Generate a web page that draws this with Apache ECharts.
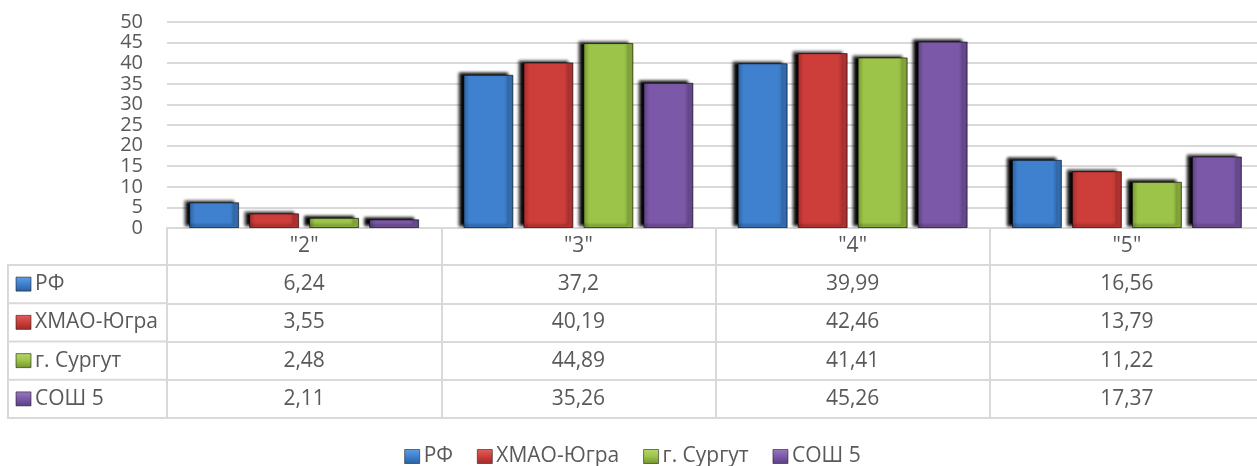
<!DOCTYPE html>
<html><head><meta charset="utf-8">
<script src="https://cdn.jsdelivr.net/npm/echarts/dist/echarts.min.js"></script>
<style>html,body{margin:0;padding:0;overflow:hidden;background:#fff}#c{width:1265px;height:466px}</style>
</head><body><div id="c"></div>
<script>
const categories = ['"2"', '"3"', '"4"', '"5"'];
const seriesNames = ['РФ', 'ХМАО-Югра', 'г. Сургут', 'СОШ 5'];
const valuesRF = [6.24, 37.2, 39.99, 16.56];
const valuesHMAO = [3.55, 40.19, 42.46, 13.79];
const valuesSurgut = [2.48, 44.89, 41.41, 11.22];
const valuesSOSH = [2.11, 35.26, 45.26, 17.37];
const yMin = 0, yMax = 50, yStep = 5;

const allValues = [valuesRF, valuesHMAO, valuesSurgut, valuesSOSH];
const palette = [
  ['#2c5f9c', '#3f81cf', '#5c9de3'],
  ['#9e2b29', '#cd3d3a', '#e0605c'],
  ['#74932f', '#9cc449', '#b4d86a'],
  ['#5a3e80', '#7c59a8', '#9877c2']
];
const txt = '#595959';
const lineC = '#d9d9d9';
const FONT = 'Open Sans';
const FS = 21;
const fmt = v => String(v).replace('.', ',');

function grad(p) {
  return new echarts.graphic.LinearGradient(0, 0, 1, 0, [
    {offset: 0, color: p[0]}, {offset: 0.12, color: p[1]},
    {offset: 0.5, color: p[1]}, {offset: 0.88, color: p[1]}, {offset: 1, color: p[0]}
  ]);
}
function iconGrad(p) {
  return new echarts.graphic.LinearGradient(0, 0, 0, 1, [
    {offset: 0, color: p[2]}, {offset: 0.5, color: p[1]}, {offset: 1, color: p[0]}
  ]);
}

const gridTop = 22, gridBottomY = 228, gridLeft = 167;
const headerH = 37, rowH = 38.25;

const xAxes = [{
  type: 'category', data: categories, position: 'bottom', offset: 0,
  axisLine: {show: true, lineStyle: {color: lineC, width: 2}},
  axisTick: {show: false},
  axisLabel: {color: txt, fontFamily: FONT, fontSize: FS, margin: 0, lineHeight: headerH}
}];
allValues.forEach((vals, i) => {
  xAxes.push({
    type: 'category', data: categories, position: 'bottom', offset: headerH + i * rowH,
    axisLine: {show: true, lineStyle: {color: lineC, width: 2}},
    axisTick: {show: false},
    axisLabel: {color: txt, fontFamily: FONT, fontSize: FS, margin: 0, lineHeight: rowH,
      formatter: (v, idx) => fmt(vals[idx])}
  });
});
const tableH = headerH + allValues.length * rowH;
xAxes.push({
  type: 'category', data: categories, position: 'bottom', offset: tableH,
  axisLine: {show: true, lineStyle: {color: lineC, width: 2}},
  axisTick: {show: true, inside: true, length: tableH, interval: 0, lineStyle: {color: lineC, width: 2}},
  axisLabel: {show: false}
});

const graphics = [{
  type: 'rect', shape: {x: 8, y: gridBottomY + headerH, width: gridLeft - 8, height: allValues.length * rowH},
  style: {fill: 'none', stroke: lineC, lineWidth: 2}, z: 10
}];
seriesNames.forEach((n, i) => {
  const top = gridBottomY + headerH + i * rowH;
  if (i > 0) graphics.push({type: 'line', shape: {x1: 8, y1: top, x2: gridLeft, y2: top},
    style: {stroke: lineC, lineWidth: 2}, z: 10});
  graphics.push({type: 'rect', shape: {x: 16, y: top + rowH / 2 - 7, width: 15, height: 14},
    style: {fill: iconGrad(palette[i]), stroke: '#222', lineWidth: 0.6}, z: 10});
  graphics.push({type: 'text', x: 35, y: top + rowH / 2,
    style: {text: n, fill: txt, font: FS + 'px "' + FONT + '"', textVerticalAlign: 'middle', verticalAlign: 'middle'}, z: 10});
});

const chart = echarts.init(document.getElementById('c'));
chart.setOption({
  animation: false,
  grid: {left: gridLeft, right: 1, top: gridTop, bottom: 466 - gridBottomY, containLabel: false},
  legend: {
    data: seriesNames.map((n, i) => ({name: n, itemStyle: {color: iconGrad(palette[i]), borderColor: '#222', borderWidth: 0.6}})),
    left: 'center', top: 441, itemWidth: 15, itemHeight: 14, itemGap: 24,
    icon: 'rect', textStyle: {color: txt, fontFamily: FONT, fontSize: FS, padding: [0, 0, 0, -1]}
  },
  xAxis: xAxes,
  yAxis: {
    type: 'value', min: yMin, max: yMax, interval: yStep,
    axisLine: {show: false}, axisTick: {show: false},
    axisLabel: {color: txt, fontFamily: FONT, fontSize: 20, margin: 24},
    splitLine: {lineStyle: {color: lineC, width: 2}}
  },
  graphic: graphics,
  series: allValues.map((vals, i) => ({
    name: seriesNames[i], type: 'bar', data: vals, barWidth: 50, barGap: '20%',
    xAxisIndex: 0,
    itemStyle: {
      color: grad(palette[i]), borderColor: 'rgba(0,0,0,0.6)', borderWidth: 1,
      shadowColor: 'rgba(0,0,0,1)', shadowBlur: 3, shadowOffsetX: -5, shadowOffsetY: -2
    }
  }))
});
</script></body></html>
